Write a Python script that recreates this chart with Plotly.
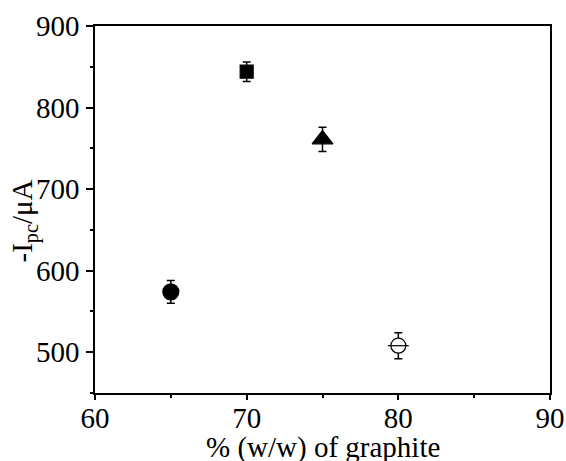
import plotly.graph_objects as go

# Data
graphite_pct = [65, 70, 75, 80]          # % (w/w) of graphite
ipc_uA = [574, 844, 761, 508]            # -Ipc / uA
ipc_err = [14, 12, 15, 16]               # error bar half-lengths

# Styles
symbols = ["circle", "square", "triangle-up", "circle"]
fills = ["black", "black", "black", "white"]
sizes = [16, 13, 18, 15]
open_idx = [3]

FONT = "Liberation Serif, Times New Roman, serif"

fig = go.Figure()
fig.add_trace(go.Scatter(
    x=graphite_pct, y=ipc_uA, mode="markers",
    marker=dict(symbol=symbols, color=fills, size=sizes, opacity=1,
                line=dict(color="black", width=1.2)),
    error_y=dict(type="data", array=ipc_err, color="black",
                 thickness=1.5, width=4),
    showlegend=False,
))
# horizontal bar inside the open circle
fig.add_trace(go.Scatter(
    x=[graphite_pct[i] for i in open_idx],
    y=[ipc_uA[i] for i in open_idx],
    mode="markers",
    marker=dict(symbol="line-ew", size=15, color="black", opacity=1,
                line=dict(color="black", width=1.2)),
    showlegend=False,
))

axis_common = dict(
    showline=True, linecolor="black", linewidth=1.6, mirror=True,
    ticks="outside", tickcolor="black", tickwidth=1.5,
    showgrid=False, zeroline=False, automargin=False,
    tickfont=dict(family=FONT, size=29, color="black"),
)

fig.update_xaxes(
    range=[60, 90], dtick=10, tick0=60, ticklen=5, ticklabelstandoff=-7,
    minor=dict(dtick=5, ticklen=3, ticks="outside", tickcolor="black", tickwidth=1.5),
    **axis_common,
)
fig.update_yaxes(
    range=[450, 900], dtick=100, tick0=500, ticklen=7, ticklabelstandoff=1,
    minor=dict(dtick=50, ticklen=3, ticks="outside", tickcolor="black", tickwidth=1.5),
    **axis_common,
)

fig.add_annotation(
    text="-I<sub>pc</sub>/μA", textangle=-90,
    xref="paper", yref="paper", x=0, y=0.5, xanchor="center", yanchor="middle",
    xshift=-71, yshift=-12, showarrow=False,
    font=dict(family=FONT, size=29, color="black"),
)
fig.add_annotation(
    text="% (w/w) of graphite",
    xref="paper", yref="paper", x=0.5, y=0, xanchor="center", yanchor="top",
    yshift=-36, showarrow=False,
    font=dict(family=FONT, size=29, color="black"),
)

fig.update_layout(
    width=566, height=461,
    margin=dict(l=95, r=16, t=26, b=68),
    paper_bgcolor="white", plot_bgcolor="white",
    font=dict(family=FONT, color="black"),
)

fig.write_html("out.html")
